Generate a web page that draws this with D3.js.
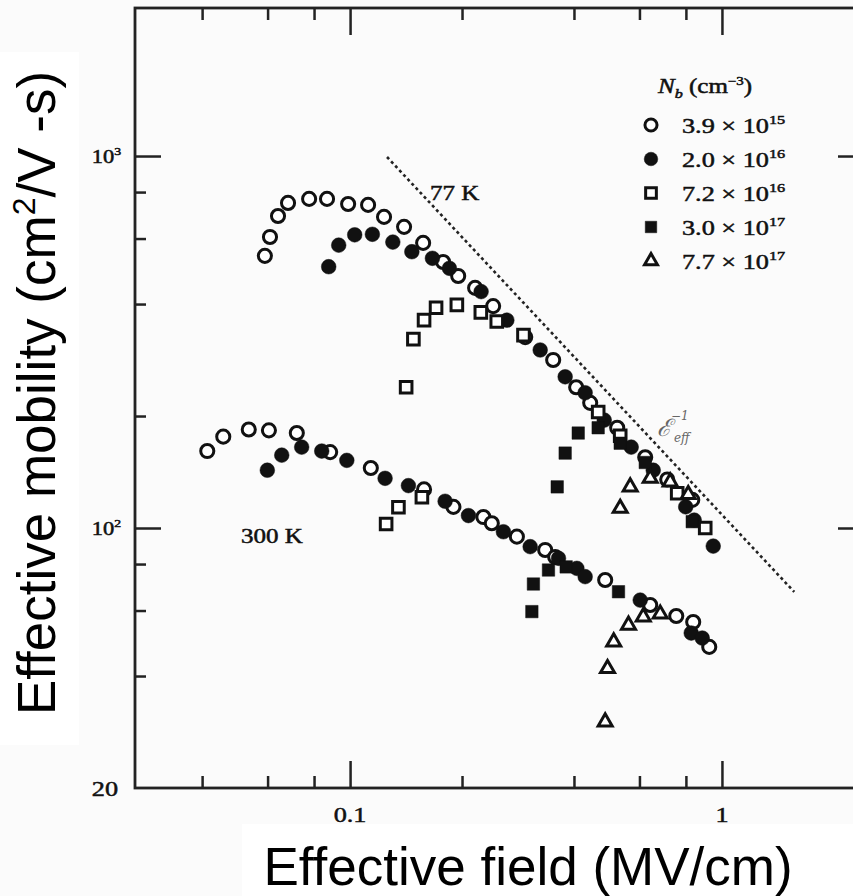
<!DOCTYPE html>
<html><head><meta charset="utf-8">
<script src="https://cdn.jsdelivr.net/npm/d3@7"></script>
<style>body{margin:0;background:#fbfbfb} svg{display:block}</style>
</head><body><svg id="c" width="853" height="896"></svg>
<script>
// ---------- data (x: effective field MV/cm, y: effective mobility cm2/V-s) ----------
const xMajorTicks = [0.1, 1];
const xMinorTicks = [0.04, 0.06, 0.08, 0.2, 0.4, 0.6, 0.8];
const yMajorTicks = [100, 1000];
const yMinorTicks = [40, 60, 80, 200, 400, 600, 800];
const xTickLabels = ["0.1", "1"];

const legendMantissa = ["3.9", "2.0", "7.2", "3.0", "7.7"];
const legendExponent = ["15", "16", "16", "17", "17"];

// 77 K
const s39e15_77K = [[0.0590,539],[0.0609,606],[0.0640,690],[0.0681,748],[0.0776,767],[0.0867,767],[0.0988,743],[0.1118,739],[0.1234,686],[0.1397,645],[0.1572,584],[0.1779,519],[0.1953,476],[0.2169,442],[0.2425,395],[0.2958,326],[0.3517,283],[0.4055,239],[0.4423,217],[0.5228,186],[0.6218,155],[0.7127,135],[0.832,119]];
const s20e16_77K = [[0.0876,504],[0.0932,576],[0.1029,614],[0.1148,616],[0.1303,587],[0.1466,553],[0.1665,531],[0.185,499],[0.2251,432],[0.2640,362],[0.3245,301],[0.3788,255],[0.4287,231],[0.4825,195],[0.5702,165],[0.6535,143],[0.799,114],[0.8422,105],[0.9475,89.4]];
const s72e16_77K = [[0.1415,239],[0.148,322],[0.1581,362],[0.1703,391],[0.1937,398],[0.2247,380],[0.248,359],[0.2926,330],[0.4647,205],[0.5326,177],[0.758,124],[0.9016,100]];
const s30e17_77K = [[0.3606,129],[0.3788,159],[0.4107,180],[0.4647,186],[0.5326,169],[0.622,150],[0.832,104]];
const s77e17_77K = [[0.5326,113],[0.5666,129],[0.6413,136],[0.7259,133],[0.8116,123]];
// 300 K
const s39e15_300K = [[0.0413,161],[0.0456,176],[0.0534,184],[0.0605,183],[0.0719,180],[0.0884,160],[0.1137,145],[0.1581,127],[0.1896,114],[0.2283,107],[0.2405,103],[0.2809,94.8],[0.3347,87.3],[0.3561,83.6],[0.4853,72.5],[0.6413,62.1],[0.7536,58],[0.837,55.9],[0.9244,47.9]];
const s20e16_300K = [[0.0599,143],[0.0655,157],[0.0741,165],[0.0839,161],[0.098,152],[0.1242,136],[0.1435,130],[0.1801,118],[0.2081,108],[0.2584,97.7],[0.305,89.1],[0.3635,82.9],[0.4073,77.9],[0.4287,74],[0.6028,64],[0.8268,52.2],[0.885,50.6]];
const s72e16_300K = [[0.125,102.5],[0.1349,113.7],[0.156,121]];
const s30e17_300K = [[0.3082,59.6],[0.3112,70.7],[0.3416,77.1],[0.3812,78.6],[0.527,67.4]];
const s77e17_300K = [[0.4853,30.1],[0.4924,41.9],[0.5116,49.4],[0.5606,54.8],[0.6143,57.7],[0.6823,58.7]];

// E_eff^-1 guide line (77 K)
const guideX = [0.1257, 1.565];
const guideY = [994, 67.3];

// ---------- drawing ----------
const BG = "#fbfbfb", INK = "#111";
const svg = d3.select("#c");
svg.append("rect").attr("width", 853).attr("height", 896).attr("fill", BG);
svg.append("rect").attr("x", 0).attr("y", 52).attr("width", 79).attr("height", 693).attr("fill", "#fff");
svg.append("rect").attr("x", 242).attr("y", 824).attr("width", 611).attr("height", 72).attr("fill", "#fff");

const x = d3.scaleLog().domain([0.0264, 2.41]).range([135, 864]);
const y = d3.scaleLog().domain([20, 2500]).range([788, 8]);
const [X0, X1] = x.range(), [Y0, Y1] = y.range();

function styleAxis(g, w) {
  g.select(".domain").remove();
  g.selectAll(".tick line").attr("stroke", "#222").attr("stroke-width", w);
  g.selectAll(".tick text").remove();
}
// bottom / top
svg.append("g").attr("transform", `translate(0,${Y0})`).call(d3.axisBottom(x).tickValues(xMajorTicks).tickSize(-27).tickFormat("")).call(g => styleAxis(g, 2.5));
svg.append("g").attr("transform", `translate(0,${Y0})`).call(d3.axisBottom(x).tickValues(xMinorTicks).tickSize(-12).tickFormat("")).call(g => styleAxis(g, 2.5));
svg.append("g").attr("transform", `translate(0,${Y1})`).call(d3.axisTop(x).tickValues(xMajorTicks).tickSize(-27).tickFormat("")).call(g => styleAxis(g, 2.5));
svg.append("g").attr("transform", `translate(0,${Y1})`).call(d3.axisTop(x).tickValues(xMinorTicks).tickSize(-12).tickFormat("")).call(g => styleAxis(g, 2.5));
// left / right
svg.append("g").attr("transform", `translate(${X0},0)`).call(d3.axisLeft(y).tickValues(yMajorTicks).tickSize(-26).tickFormat("")).call(g => styleAxis(g, 2.5));
svg.append("g").attr("transform", `translate(${X0},0)`).call(d3.axisLeft(y).tickValues(yMinorTicks).tickSize(-11).tickFormat("")).call(g => styleAxis(g, 2.5));
svg.append("g").attr("transform", `translate(${X1},0)`).call(d3.axisRight(y).tickValues(yMajorTicks).tickSize(-26).tickFormat("")).call(g => styleAxis(g, 2.5));
svg.append("g").attr("transform", `translate(${X1},0)`).call(d3.axisRight(y).tickValues(yMinorTicks).tickSize(-11).tickFormat("")).call(g => styleAxis(g, 2.5));
// frame
svg.append("rect").attr("x", X0).attr("y", Y1).attr("width", X1 - X0).attr("height", Y0 - Y1)
  .attr("fill", "none").attr("stroke", "#222").attr("stroke-width", 2.8);

// serif text helper (scan is horizontally stretched)
function stext(px, py, size, anchor) {
  return svg.append("text").attr("transform", `translate(${px},${py}) scale(1.25,1)`)
    .attr("font-family", "Liberation Serif, Times New Roman, serif").attr("font-size", size)
    .attr("text-anchor", anchor || "start").attr("fill", "#111")
    .attr("stroke", "#111").attr("stroke-width", 0.5);
}
// tick labels
xMajorTicks.forEach((v, i) => stext(x(v), 822, 21, "middle").text(xTickLabels[i]));
yMajorTicks.forEach(v => {
  const t = stext(121, y(v) + 7, 18, "end");
  t.append("tspan").text("10");
  t.append("tspan").attr("font-size", 11).attr("dy", -8).text(String(Math.round(Math.log10(v))));
});
stext(118, Y0 + 8, 21, "end").text("20");

// guide line
svg.append("line").attr("x1", x(guideX[0])).attr("y1", y(guideY[0])).attr("x2", x(guideX[1])).attr("y2", y(guideY[1]))
  .attr("stroke", "#222").attr("stroke-width", 2.6).attr("stroke-dasharray", "3,3");

// annotations
stext(430, 200, 20).text("77 K");
stext(241, 543, 20).text("300 K");
const eff = svg.append("text").attr("transform", "translate(657,436)").attr("font-family", "DejaVu Serif, serif")
  .attr("font-style", "italic").attr("fill", "#666");
eff.append("tspan").attr("font-size", 24).text("ℰ");
eff.append("tspan").attr("font-size", 12).attr("dy", -16).text("−1");
eff.append("tspan").attr("font-size", 12).attr("x", 17).attr("dy", 22).text("eff");

// markers
const kinds = [
  {type: d3.symbolCircle, size: 135, filled: false},
  {type: d3.symbolCircle, size: 170, filled: true},
  {type: d3.symbolSquare, size: 135, filled: false},
  {type: d3.symbolSquare, size: 155, filled: true},
  {type: d3.symbolTriangle, size: 85, filled: false}
];
const seriesData = [
  [s39e15_77K, s39e15_300K],
  [s20e16_77K, s20e16_300K],
  [s72e16_77K, s72e16_300K],
  [s30e17_77K, s30e17_300K],
  [s77e17_77K, s77e17_300K]
];
function drawSym(g, k, px, py, scale) {
  g.append("path").attr("d", d3.symbol().type(k.type).size(k.size * (scale || 1))())
    .attr("transform", `translate(${px},${py})`)
    .attr("fill", k.filled ? INK : "#fff").attr("stroke", INK).attr("stroke-width", k.filled ? 0.5 : 3);
}
const pts = svg.append("g");
seriesData.forEach((pair, i) => {
  pair.forEach(arr => arr.forEach(d => drawSym(pts, kinds[i], x(d[0]), y(d[1]))));
});

// legend
const lt = stext(658, 93, 20);
lt.append("tspan").attr("font-style", "italic").text("N");
lt.append("tspan").attr("font-style", "italic").attr("font-size", 13).attr("dy", 5).text("b");
lt.append("tspan").attr("dy", -5).text(" (cm");
lt.append("tspan").attr("font-size", 12).attr("dy", -8).text("−3");
lt.append("tspan").attr("dy", 8).text(")");
legendMantissa.forEach((m, i) => {
  const cy = 125 + i * 34;
  drawSym(svg, kinds[i], 651, cy, 0.85);
  const t = stext(682, cy + 8, 21);
  t.append("tspan").text(m + " × 10");
  t.append("tspan").attr("font-size", 13).attr("dy", -9).text(legendExponent[i]);
});

// axis titles
svg.append("text").attr("x", 528).attr("y", 885).attr("text-anchor", "middle")
  .attr("font-family", "Liberation Sans, Arial, sans-serif").attr("font-size", 53).attr("fill", "#000")
  .text("Effective field (MV/cm)");
const yt = svg.append("text").attr("transform", "translate(55,393) rotate(-90)").attr("text-anchor", "middle")
  .attr("font-family", "Liberation Sans, Arial, sans-serif").attr("font-size", 53).attr("fill", "#000");
yt.append("tspan").text("Effective mobility (cm");
yt.append("tspan").attr("font-size", 32).attr("dy", -20).text("2");
yt.append("tspan").attr("dy", 20).text("/V -s)");
</script></body></html>
